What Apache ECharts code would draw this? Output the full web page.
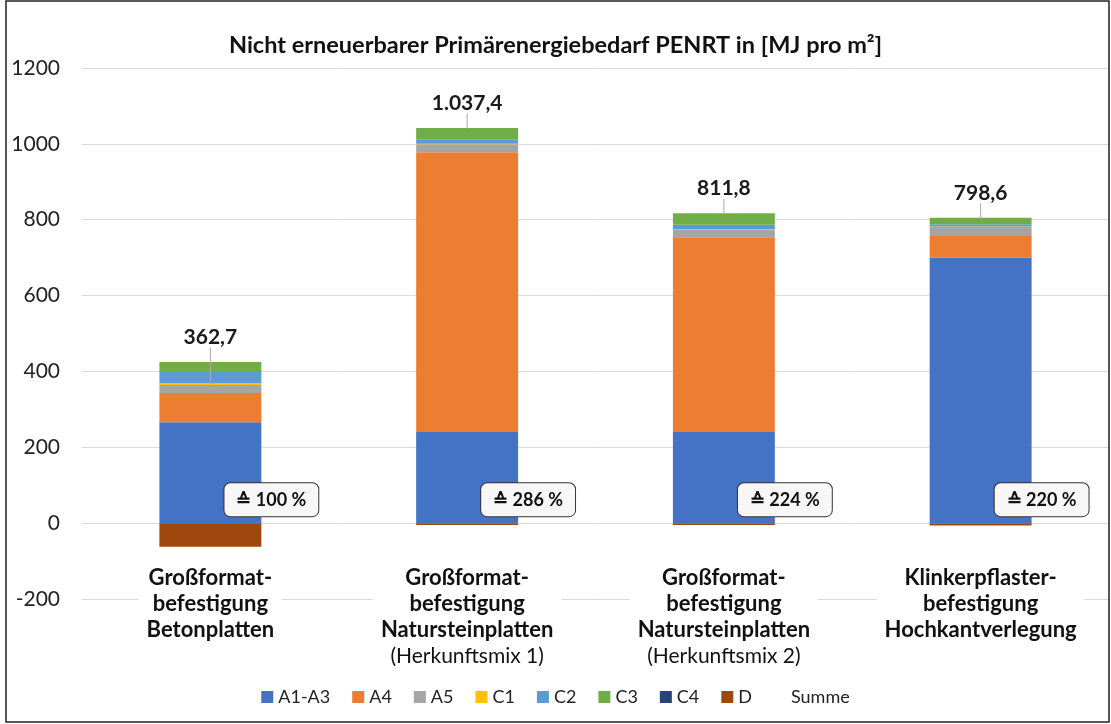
<!DOCTYPE html>
<html>
<head>
<meta charset="utf-8">
<script src="https://cdn.jsdelivr.net/npm/echarts@6/dist/echarts.min.js"></script>
<style>html,body{margin:0;padding:0;background:#fff}#c{width:1111px;height:724px}</style>
</head>
<body>
<div id="c"></div>
<script>
const categories = [
  "Großformat-\nbefestigung\nBetonplatten",
  "Großformat-\nbefestigung\nNatursteinplatten\n(Herkunftsmix 1)",
  "Großformat-\nbefestigung\nNatursteinplatten\n(Herkunftsmix 2)",
  "Klinkerpflaster-\nbefestigung\nHochkantverlegung"
];
const A1A3 = [266, 240, 240, 700];
const A4   = [77, 738, 514, 57];
const A5   = [21, 21, 20, 24];
const C1   = [5, 1, 1, 1];
const C2   = [32, 12, 12, 6];
const C3   = [24, 30, 30, 17];
const C4   = [0, 0, 0, 0];
const D    = [-62.3, -4.6, -5.2, -6.4];
const Summe = [362.7, 1037.4, 811.8, 798.6];
const percent = [100, 286, 224, 220];
const yTicks = [-200, 0, 200, 400, 600, 800, 1000, 1200];

const FONT = 'Lato';
const stackSeries = [
  ['A1-A3', A1A3, '#4472C4'],
  ['A4', A4, '#ED7D31'],
  ['A5', A5, '#A5A5A5'],
  ['C1', C1, '#FFC000'],
  ['C2', C2, '#5B9BD5'],
  ['C3', C3, '#70AD47'],
  ['C4', C4, '#264478'],
  ['D', D, '#9E480E']
];
const posTop = categories.map((_, i) => stackSeries.reduce((s, ss) => s + Math.max(0, ss[1][i]), 0));

const chart = echarts.init(document.getElementById('c'));
const fmtDE = v => v.toLocaleString('de-DE', {minimumFractionDigits: 1, maximumFractionDigits: 1});

const series = stackSeries.map((s, idx) => {
  const o = {
    name: s[0], type: 'bar', stack: 'total', barWidth: '39.7%',
    data: s[1], itemStyle: {color: s[2]}, emphasis: {disabled: true}
  };
  if (idx === 0) {
    o.label = {
      show: true, position: 'insideBottom', distance: 7, offset: [61, 0],
      formatter: p => '≙ ' + percent[p.dataIndex] + ' %',
      fontFamily: FONT, fontWeight: 'bold', fontSize: 18, color: '#111',
      backgroundColor: '#f7f7f7', borderColor: '#333', borderWidth: 1, borderRadius: 6,
      padding: [8, 12, 7, 12]
    };
  }
  return o;
});
series.push({
  name: 'Summe', type: 'line', data: Summe, symbol: 'circle', symbolSize: 2, showSymbol: true,
  lineStyle: {width: 0, color: 'rgba(0,0,0,0)'}, itemStyle: {color: 'rgba(0,0,0,0)'}, z: 10,
  emphasis: {disabled: true},
  label: {
    show: true, position: 'top', formatter: p => fmtDE(p.value),
    fontFamily: FONT, fontWeight: 'bold', fontSize: 21, color: '#1a1a1a'
  },
  labelLine: {show: true, lineStyle: {color: '#aaaaaa', width: 1}},
  labelLayout: function (params) {
    const i = params.dataIndex;
    const p = chart.convertToPixel({seriesIndex: 0}, [i, posTop[i]]);
    return {x: p[0], y: p[1] - 25, align: 'center', verticalAlign: 'middle'};
  }
});

chart.setOption({
  animation: false,
  textStyle: {fontFamily: FONT},
  title: {
    text: 'Nicht erneuerbarer Primärenergiebedarf PENRT in [MJ pro m²]',
    left: 'center', top: 28,
    textStyle: {fontFamily: FONT, fontWeight: 'bold', fontSize: 23.5, color: '#111'}
  },
  grid: {left: 82, right: 2, top: 68, bottom: 125, outerBoundsMode: 'none', containLabel: false},
  legend: {
    bottom: 13, left: 'center', itemWidth: 12, itemHeight: 12, itemGap: 22,
    icon: 'rect',
    textStyle: {fontFamily: FONT, fontSize: 18, color: '#222'},
    data: ['A1-A3','A4','A5','C1','C2','C3','C4','D', {name: 'Summe', itemStyle: {opacity: 0}}]
  },
  graphic: [{
    type: 'rect', shape: {x: 6, y: 1, width: 1103, height: 721},
    style: {fill: 'none', stroke: '#222', lineWidth: 1.5}, silent: true, z: 100
  }],
  xAxis: {
    type: 'category', data: categories,
    axisLine: {show: false}, axisTick: {show: false},
    axisLabel: {
      margin: -34, interval: 0, backgroundColor: '#ffffff', padding: [0, 8],
      formatter: v => v.split('\n').map(l => l.startsWith('(') ? '{n|' + l + '}' : '{b|' + l + '}').join('\n'),
      rich: {
        b: {fontFamily: FONT, fontWeight: 'bold', fontSize: 22, color: '#111', lineHeight: 26},
        n: {fontFamily: FONT, fontSize: 21, color: '#111', lineHeight: 26}
      }
    }
  },
  yAxis: {
    type: 'value', min: yTicks[0], max: yTicks[yTicks.length - 1], interval: 200,
    axisLabel: {fontFamily: FONT, fontSize: 21, color: '#222', margin: 22, formatter: v => String(v)},
    splitLine: {lineStyle: {color: '#d9d9d9'}},
    axisLine: {show: false}, axisTick: {show: false}
  },
  series: series
});
</script>
</body>
</html>
